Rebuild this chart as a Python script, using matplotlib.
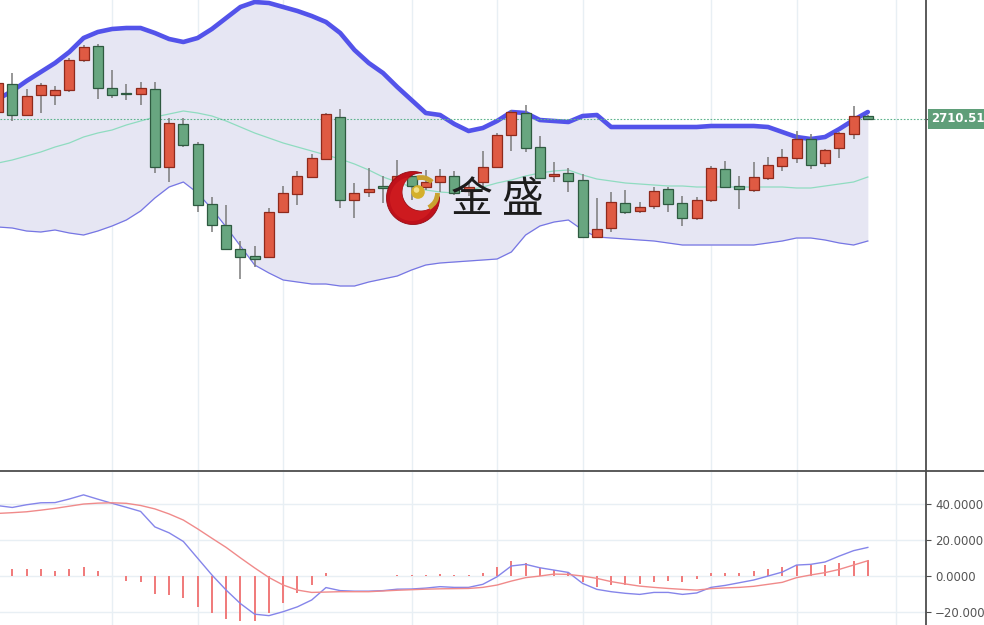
import numpy as np
import matplotlib
matplotlib.use('Agg')
import matplotlib.pyplot as plt
from matplotlib.patches import Polygon, Circle, Arc
from matplotlib.lines import Line2D

# daily candles (price)
opens = [2714.0, 2728.0, 2712.5, 2722.5, 2722.5, 2725.0, 2740.0, 2747.0, 2726.0, 2723.0,
         2723.0, 2725.5, 2686.5, 2708.0, 2698.0, 2668.0, 2657.5, 2645.5, 2642.0, 2641.5,
         2664.0, 2673.0, 2681.5, 2690.5, 2711.5, 2670.0, 2674.0, 2676.5, 2677.0, 2682.0,
         2676.5, 2679.0, 2682.0, 2674.5, 2679.0, 2686.5, 2702.5, 2713.5, 2696.5, 2682.2,
         2683.5, 2680.0, 2651.5, 2656.0, 2668.5, 2664.5, 2667.0, 2675.5, 2668.5, 2661.0,
         2670.0, 2685.5, 2677.0, 2675.0, 2681.0, 2687.0, 2691.0, 2700.5, 2688.5, 2696.0,
         2703.0, 2712.0]
highs = [2730.0, 2733.5, 2725.5, 2728.5, 2727.0, 2741.0, 2747.5, 2748.0, 2735.0, 2728.0,
         2729.0, 2729.0, 2711.0, 2711.0, 2699.0, 2671.5, 2667.5, 2649.5, 2647.0, 2666.0,
         2677.0, 2684.5, 2693.0, 2713.5, 2715.5, 2678.5, 2686.0, 2682.0, 2690.0, 2684.0,
         2685.0, 2685.5, 2684.5, 2679.0, 2694.5, 2703.5, 2715.0, 2717.5, 2702.0, 2689.0,
         2686.0, 2683.0, 2671.0, 2674.0, 2675.0, 2669.0, 2676.5, 2676.5, 2672.0, 2671.5,
         2687.0, 2689.5, 2682.0, 2689.0, 2691.5, 2695.5, 2704.5, 2703.0, 2695.5, 2704.0,
         2717.0, 2712.5]
lows = [2713.0, 2709.5, 2712.0, 2713.5, 2717.5, 2724.0, 2739.0, 2720.5, 2721.0, 2720.0,
        2717.5, 2683.5, 2679.0, 2696.5, 2664.0, 2654.0, 2645.0, 2630.5, 2636.5, 2641.0,
        2663.5, 2667.5, 2681.0, 2690.0, 2666.0, 2661.0, 2671.5, 2668.5, 2672.5, 2670.0,
        2675.0, 2674.0, 2672.5, 2672.0, 2675.0, 2686.0, 2694.5, 2694.0, 2680.5, 2679.0,
        2674.0, 2651.0, 2651.0, 2654.0, 2663.0, 2663.5, 2665.5, 2664.0, 2657.0, 2660.0,
        2669.0, 2676.0, 2665.5, 2674.0, 2680.0, 2684.5, 2688.5, 2685.5, 2686.5, 2691.0,
        2700.5, 2710.3]
closes = [2728.5, 2712.5, 2722.0, 2727.5, 2725.0, 2740.0, 2746.5, 2726.0, 2722.5, 2722.8,
          2726.0, 2686.5, 2708.5, 2697.5, 2667.5, 2657.5, 2645.5, 2641.5, 2640.5, 2664.0,
          2673.5, 2682.0, 2691.0, 2713.0, 2670.0, 2673.5, 2675.5, 2676.2, 2682.0, 2677.0,
          2679.0, 2682.0, 2673.5, 2676.5, 2686.5, 2702.5, 2714.0, 2696.0, 2681.0, 2682.5,
          2679.5, 2651.5, 2655.5, 2669.0, 2664.0, 2666.5, 2674.5, 2668.0, 2661.0, 2670.0,
          2686.0, 2676.5, 2675.5, 2681.5, 2687.5, 2691.5, 2700.5, 2687.5, 2695.0, 2703.5,
          2712.0, 2710.51]

# bollinger bands
bb_upper = [2720.5, 2724.5, 2729.5, 2734.0, 2738.5, 2744.0, 2751.0, 2754.0, 2755.5, 2756.0,
            2756.0, 2753.5, 2750.5, 2749.0, 2751.0, 2755.5, 2761.0, 2766.5, 2769.0, 2768.5,
            2766.5, 2764.5, 2762.0, 2759.0, 2753.5, 2745.0, 2738.5, 2733.5, 2726.5, 2720.0,
            2713.5, 2712.5, 2708.0, 2704.5, 2706.0, 2709.5, 2714.0, 2713.5, 2710.0, 2709.5,
            2709.0, 2712.0, 2712.5, 2706.5, 2706.5, 2706.5, 2706.5, 2706.5, 2706.5, 2706.5,
            2707.0, 2707.0, 2707.0, 2707.0, 2706.5, 2704.0, 2701.5, 2700.5, 2701.5, 2705.5,
            2710.0, 2714.0]
bb_mid = [2688.5, 2690.0, 2692.0, 2694.0, 2696.5, 2698.5, 2701.5, 2703.5, 2705.0, 2707.5,
          2709.5, 2711.5, 2713.0, 2714.5, 2713.5, 2712.0, 2709.5, 2706.5, 2703.5, 2701.0,
          2698.5, 2696.5, 2694.5, 2692.5, 2690.5, 2688.0, 2685.0, 2681.5, 2679.0, 2676.5,
          2675.0, 2674.0, 2673.5, 2675.0, 2676.5, 2678.5, 2680.0, 2682.0, 2683.5, 2684.5,
          2685.0, 2682.5, 2680.5, 2679.5, 2678.5, 2678.0, 2677.5, 2677.0, 2677.0, 2676.5,
          2676.5, 2676.5, 2676.5, 2676.5, 2676.5, 2676.5, 2676.0, 2676.0, 2677.0, 2678.0,
          2679.0, 2681.5]
bb_lower = [2656.5, 2656.0, 2654.5, 2654.0, 2655.0, 2653.5, 2652.5, 2654.5, 2657.0, 2660.0,
            2664.5, 2671.0, 2676.5, 2679.0, 2673.5, 2665.5, 2656.5, 2647.0, 2637.5, 2633.5,
            2630.0, 2629.0, 2628.0, 2628.0, 2627.0, 2627.0, 2629.0, 2630.5, 2632.0, 2635.0,
            2637.5, 2638.5, 2639.0, 2639.5, 2640.0, 2640.5, 2644.0, 2652.5, 2657.0, 2659.0,
            2660.0, 2655.0, 2651.5, 2651.0, 2650.5, 2650.0, 2649.5, 2648.5, 2647.5, 2647.5,
            2647.5, 2647.5, 2647.5, 2647.5, 2648.5, 2649.5, 2651.0, 2651.0, 2650.0, 2648.5,
            2647.5, 2649.5]

# MACD panel
dif = [39.1, 38.1, 39.6, 40.7, 40.8, 42.8, 45.1, 42.7, 40.4, 38.2,
       35.9, 27.3, 24.0, 19.2, 9.9, 0.6, -7.8, -15.3, -21.2, -22.0,
       -19.8, -17.1, -13.3, -6.4, -8.1, -8.4, -8.4, -8.1, -7.3, -7.2,
       -6.7, -5.9, -6.3, -6.3, -4.6, -0.4, 5.6, 6.5, 4.6, 3.3,
       2.0, -4.1, -7.4, -8.7, -9.6, -10.2, -9.1, -9.1, -10.2, -9.4,
       -6.3, -5.2, -3.7, -2.2, 0.0, 2.2, 6.1, 6.5, 7.8, 11.1,
       14.1, 15.9]
dea = [34.8, 35.2, 35.7, 36.6, 37.6, 38.8, 40.0, 40.5, 40.7, 40.4,
       39.2, 37.3, 34.5, 31.1, 26.2, 21.0, 15.9, 10.1, 4.5, -0.8,
       -5.0, -7.8, -9.1, -8.9, -8.7, -8.7, -8.7, -8.3, -7.9, -7.6,
       -7.3, -7.1, -7.0, -6.9, -6.3, -5.0, -2.8, -0.9, 0.0, 1.1,
       0.9, 0.0, -1.3, -3.1, -4.4, -5.6, -6.3, -6.9, -7.4, -7.8,
       -7.0, -6.6, -6.3, -5.7, -4.6, -3.5, -0.9, 0.6, 1.9, 3.7,
       6.1, 8.5]
macd_hist = [3.5, 3.7, 3.7, 4.1, 3.0, 4.1, 5.2, 2.6, -0.2, -2.6,
             -3.5, -10.0, -10.4, -12.2, -17.0, -20.4, -23.7, -24.8, -24.8, -20.4,
             -14.8, -9.6, -4.8, 1.9, 0.3, 0.2, 0.1, 0.2, 0.7, 0.6,
             0.8, 1.1, 0.7, 0.6, 1.7, 4.8, 8.1, 7.2, 4.4, 3.3,
             1.9, -3.5, -6.3, -5.0, -5.0, -4.4, -3.1, -2.6, -3.1, -1.9,
             1.5, 1.9, 1.9, 3.0, 3.9, 4.8, 6.3, 6.3, 6.3, 7.0,
             8.5, 8.9]

grid_idx = [8, 14, 20, 29, 35, 41, 50, 56, 63]
last_price = 2710.51
macd_ticks = [-20, 0, 20, 40]

W, H = 984, 625
fig = plt.figure(figsize=(W / 100, H / 100), dpi=100)
fig.patch.set_facecolor('white')

ax = fig.add_axes([0, 154 / H, 926 / W, 471 / H])
ax2 = fig.add_axes([0, 0, 926 / W, 153 / H])

x = np.arange(len(closes))
o = np.array(opens)
c = np.array(closes)
up = c >= o
bot = np.minimum(o, c)
hgt = np.maximum(np.abs(c - o), 0.6)

axcol = '#4d4d4d'
gridcol = '#e8eff4'

# ---- main panel ----
ax.fill_between(x, bb_lower, bb_upper, color='#e6e6f3', lw=0, zorder=1)
ax.plot(x, bb_upper, color='#5353ea', lw=3.3, zorder=2, solid_capstyle='round')
ax.plot(x, bb_mid, color='#8fdcc0', lw=0.9, zorder=2)
ax.plot(x, bb_lower, color='#7676e4', lw=0.9, zorder=2)
ax.axhline(last_price, color='#5cb48c', lw=0.8, ls=(0, (1.5, 1.5)), zorder=2)

ax.vlines(x, lows, highs, color='#7a7a7a', lw=1.1, zorder=3)
ax.bar(x[up], hgt[up], 0.7, bottom=bot[up], color='#df5a43', edgecolor='#8f2a1c', lw=0.9, zorder=4)
ax.bar(x[~up], hgt[~up], 0.7, bottom=bot[~up], color='#68a680', edgecolor='#2e5a40', lw=0.9, zorder=4)

ax.set_xlim(0.14, 65.08)
ax.set_ylim(2534.5, 2770.0)
ax.set_xticks(grid_idx)
ax.grid(axis='x', color=gridcol, lw=1, zorder=0)
ax.set_axisbelow(True)
ax.yaxis.tick_right()
ax.set_yticks([last_price])
ax.tick_params(axis='x', length=0, labelbottom=False)
ax.tick_params(axis='y', length=3.5, color=axcol, labelright=False)
for s in ['top', 'left', 'bottom']:
    ax.spines[s].set_visible(False)
ax.spines['right'].set_color(axcol)
ax.spines['right'].set_linewidth(1.3)

ax.annotate(f'{last_price:.2f}', xy=(1, last_price), xycoords=('axes fraction', 'data'),
            xytext=(4, 0), textcoords='offset points', va='center', ha='left',
            color='white', fontsize=8.5, fontweight='bold',
            bbox=dict(boxstyle='square,pad=0.3', fc='#5f9e79', ec='none'))

# ---- MACD panel ----
ax2.bar(x, macd_hist, 0.14, color='#f07c7c', zorder=2)
ax2.plot(x, dif, color='#8585ea', lw=1, zorder=3)
ax2.plot(x, dea, color='#f08a8a', lw=1, zorder=3)
ax2.set_xlim(0.14, 65.08)
ax2.set_ylim(-27.2, 57.8)
ax2.set_xticks(grid_idx)
ax2.set_yticks(macd_ticks)
ax2.set_yticklabels([f'{v:.4f}'.replace('-', '\u2212') for v in macd_ticks])
ax2.yaxis.tick_right()
ax2.grid(color=gridcol, lw=1, zorder=0)
ax2.set_axisbelow(True)
ax2.tick_params(axis='x', length=0, labelbottom=False)
ax2.tick_params(axis='y', length=3.5, color=axcol, labelcolor='#555555', labelsize=8.5, pad=3)
for s in ['top', 'left', 'bottom']:
    ax2.spines[s].set_visible(False)
ax2.spines['right'].set_color(axcol)
ax2.spines['right'].set_linewidth(1.3)

fig.add_artist(Line2D([0, 1], [154 / H, 154 / H], transform=fig.transFigure, color=axcol, lw=1.3))


# ---- watermark logo ----
def crescent(O, R, I, r, n=720):
    t = np.linspace(0, 2 * np.pi, n, endpoint=False)
    op = np.c_[O[0] + R * np.cos(t), O[1] + R * np.sin(t)]
    keep = np.hypot(op[:, 0] - I[0], op[:, 1] - I[1]) > r
    s = np.argmax(keep & ~np.roll(keep, 1))
    op = np.roll(op, -s, axis=0)
    keep = np.roll(keep, -s)
    arc1 = op[:np.argmin(keep)]
    ip = np.c_[I[0] + r * np.cos(t), I[1] + r * np.sin(t)]
    inside = np.hypot(ip[:, 0] - O[0], ip[:, 1] - O[1]) < R
    s = np.argmax(inside & ~np.roll(inside, 1))
    ip = np.roll(ip, -s, axis=0)
    inside = np.roll(inside, -s)
    arc2 = ip[:np.argmin(inside)]
    return np.vstack([arc1, arc2[::-1]])


lax = fig.add_axes([380 / W, (H - 230) / H, 70 / W, 65 / H])
lax.set_xlim(380, 450)
lax.set_ylim(230, 165)
lax.axis('off')
lax.patch.set_alpha(0)
lax.add_patch(Polygon(crescent((413, 198), 26.5, (421, 192), 19), closed=True,
                      fc='#bf111b', ec='#960b13', lw=0.6))
lax.add_patch(Polygon(crescent((412, 199), 22, (420, 193), 18), closed=True,
                      fc='#dc2424', ec='none', alpha=0.5))
lax.add_patch(Arc((421, 193), 31, 31, theta1=-105, theta2=-45, color='#c9a230', lw=3.5))
lax.add_patch(Arc((421, 193), 33, 33, theta1=0, theta2=62, color='#c9a230', lw=3.5))
lax.add_patch(Circle((418, 192), 6.8, fc='#d5b02c', ec='none'))
lax.add_patch(Circle((416.5, 190), 2.8, fc='#f2e08a', ec='none'))

fig.text(451 / W, 1 - 201 / H, '金 盛', fontsize=30, color='#1c1c1c',
         family=['Noto Sans CJK SC', 'DejaVu Sans'], va='center', ha='left', zorder=10)

fig.savefig('out.png', dpi=100)
